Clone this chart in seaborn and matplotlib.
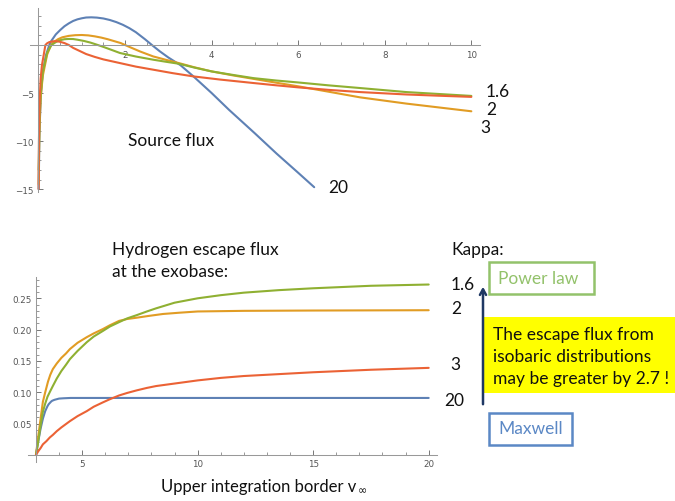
import matplotlib
matplotlib.use("Agg")
import numpy as np
import pandas as pd
import matplotlib.pyplot as plt
import seaborn as sns
from matplotlib.patches import Rectangle, FancyArrowPatch
from matplotlib.ticker import FixedLocator

# ---------------- data: top panel (Source flux, log scale values) ----------------
kappa_order = ["20", "2", "1.6", "3"]
colors = {"20": "#5E81B5", "2": "#E19C24", "1.6": "#8FB032", "3": "#EB6235"}

top_v_k20 = [0.005, 0.02, 0.05, 0.1, 0.17, 0.25, 0.3, 0.4, 0.5, 0.6, 0.7, 0.8, 0.9, 1.0, 1.1,
             1.22, 1.35, 1.5, 1.65, 1.8, 1.95, 2.1, 2.25, 2.46, 2.62, 2.8, 3.0, 3.28, 3.58, 4.0,
             4.4, 5.0, 5.5, 6.0, 6.37]
top_y_k20 = [-15.0, -9.5, -5.5, -2.8, -1.1, 0.0, 0.45, 1.1, 1.55, 1.95, 2.25, 2.5, 2.67, 2.78, 2.86,
             2.88, 2.85, 2.76, 2.6, 2.38, 2.1, 1.75, 1.33, 0.6, 0.0, -0.65, -1.3, -2.1, -3.27, -5.0,
             -6.74, -9.2, -11.3, -13.3, -14.8]

top_v_k2 = [0.005, 0.02, 0.05, 0.1, 0.2, 0.29, 0.35, 0.45, 0.55, 0.7, 0.85, 1.0, 1.15, 1.3, 1.45,
            1.6, 1.75, 1.9, 2.1, 2.35, 2.65, 2.95, 3.24, 3.6, 4.0, 4.5, 5.0, 5.5, 6.0, 6.7,
            7.43, 8.5, 9.25, 10.0]
top_y_k2 = [-14.5, -9.0, -5.5, -3.2, -1.0, 0.0, 0.3, 0.6, 0.8, 0.95, 1.02, 1.04, 1.0, 0.9, 0.77,
            0.6, 0.4, 0.2, -0.2, -0.68, -1.19, -1.55, -1.88, -2.32, -2.75, -3.17, -3.55, -3.93,
            -4.3, -4.86, -5.45, -6.1, -6.5, -6.9]

top_v_k16 = [0.005, 0.02, 0.05, 0.1, 0.2, 0.3, 0.4, 0.5, 0.6, 0.7, 0.8, 0.9, 1.05, 1.2, 1.35,
             1.5, 1.7, 1.88, 2.25, 2.65, 2.95, 3.24, 3.6, 4.0, 4.5, 4.97, 5.5, 6.0, 6.7, 7.43,
             8.5, 9.25, 10.0]
top_y_k16 = [-13.0, -8.5, -5.0, -2.8, -0.8, 0.0, 0.3, 0.5, 0.6, 0.63, 0.62, 0.55, 0.42, 0.25, 0.03,
             -0.2, -0.53, -0.83, -1.2, -1.53, -1.75, -1.95, -2.35, -2.75, -3.12, -3.45, -3.7,
             -3.9, -4.2, -4.48, -4.9, -5.1, -5.3]

top_v_k3 = [0.003, 0.01, 0.03, 0.05, 0.08, 0.16, 0.2, 0.25, 0.33, 0.42, 0.5, 0.6, 0.7, 0.8, 0.95,
            1.1, 1.3, 1.5, 1.7, 1.88, 2.25, 2.65, 3.1, 3.58, 4.2, 4.97, 5.5, 6.0, 6.7, 7.43,
            8.5, 9.25, 10.0]
top_y_k3 = [-15.0, -10.0, -5.5, -3.5, -2.1, 0.0, 0.18, 0.3, 0.38, 0.4, 0.33, 0.2, 0.0, -0.3, -0.62,
            -0.94, -1.24, -1.5, -1.7, -1.88, -2.25, -2.57, -2.93, -3.27, -3.6, -3.96, -4.2,
            -4.41, -4.67, -4.9, -5.15, -5.28, -5.4]

# ---------------- data: bottom panel (escape flux) ----------------
bot_v_k20 = [3.0, 3.05, 3.1, 3.15, 3.2, 3.25, 3.3, 3.35, 3.4, 3.45, 3.5, 3.55, 3.65, 3.7, 3.8,
             3.9, 4.0, 4.2, 4.5, 6.0, 10.0, 15.0, 20.0]
bot_y_k20 = [0.0, 0.011, 0.022, 0.032, 0.042, 0.05, 0.058, 0.064, 0.07, 0.074, 0.078, 0.081, 0.085,
             0.0865, 0.088, 0.089, 0.09, 0.0905, 0.091, 0.091, 0.091, 0.091, 0.091]

bot_v_k2 = [3.0, 3.05, 3.1, 3.2, 3.3, 3.4, 3.52, 3.62, 3.73, 3.9, 4.1, 4.3, 4.47, 4.8, 5.2, 5.5,
            5.9, 6.2, 6.6, 6.95, 7.35, 7.9, 8.5, 9.2, 10.0, 12.0, 15.0, 20.0]
bot_y_k2 = [0.0, 0.015, 0.03, 0.058, 0.085, 0.1, 0.117, 0.128, 0.137, 0.146, 0.155, 0.162, 0.169,
            0.179, 0.188, 0.194, 0.201, 0.207, 0.214, 0.217, 0.219, 0.222, 0.225, 0.227, 0.229,
            0.23, 0.2305, 0.231]

bot_v_k16 = [3.0, 3.05, 3.1, 3.2, 3.3, 3.4, 3.5, 3.62, 3.73, 3.9, 4.1, 4.3, 4.47, 4.8, 5.2, 5.5,
             5.9, 6.2, 6.6, 6.95, 7.35, 7.8, 8.2, 9.0, 10.0, 11.0, 12.0, 13.5, 15.0, 17.5, 20.0]
bot_y_k16 = [0.0, 0.011, 0.022, 0.047, 0.069, 0.082, 0.093, 0.102, 0.11, 0.122, 0.134, 0.144, 0.153,
             0.166, 0.18, 0.189, 0.198, 0.205, 0.212, 0.218, 0.223, 0.229, 0.234, 0.243, 0.25,
             0.255, 0.259, 0.263, 0.266, 0.27, 0.272]

bot_v_k3 = [3.0, 3.1, 3.2, 3.3, 3.45, 3.6, 3.73, 3.9, 4.1, 4.47, 4.8, 5.2, 5.5, 5.9, 6.2, 6.6,
            6.95, 7.35, 7.8, 8.2, 9.0, 10.0, 11.0, 12.0, 13.5, 15.0, 17.5, 20.0]
bot_y_k3 = [0.0, 0.006, 0.011, 0.017, 0.022, 0.028, 0.032, 0.038, 0.044, 0.054, 0.062, 0.07, 0.077,
            0.084, 0.089, 0.095, 0.099, 0.103, 0.107, 0.11, 0.114, 0.119, 0.123, 0.126, 0.129,
            0.132, 0.136, 0.139]

# ---------------- tick labels ----------------
top_xticks = [2, 4, 6, 8, 10]
top_yticks = [-5, -10, -15]
top_ytick_labels = ["\u22125", "\u221210", "\u221215"]
bot_xticks = [5, 10, 15, 20]
bot_yticks = [0.05, 0.10, 0.15, 0.20, 0.25]
bot_ytick_labels = ["0.05", "0.10", "0.15", "0.20", "0.25"]


def long_df(pairs):
    return pd.concat([pd.DataFrame({"v": v, "val": y, "kappa": k}) for k, v, y in pairs])


top_df = long_df([("20", top_v_k20, top_y_k20), ("2", top_v_k2, top_y_k2),
                  ("1.6", top_v_k16, top_y_k16), ("3", top_v_k3, top_y_k3)])
bot_df = long_df([("20", bot_v_k20, bot_y_k20), ("2", bot_v_k2, bot_y_k2),
                  ("1.6", bot_v_k16, bot_y_k16), ("3", bot_v_k3, bot_y_k3)])

sns.set_theme(style="white")
plt.rcParams["font.family"] = ["Lato", "DejaVu Sans"]

W, H = 675, 502
fig = plt.figure(figsize=(6.75, 5.02), dpi=100)


def fx(x):
    return x / W


def fy(y):
    return 1 - y / H


def axes_px(left, top, right, bottom):
    return fig.add_axes([fx(left), fy(bottom), (right - left) / W, (bottom - top) / H])


ax1 = axes_px(30, 9, 480, 193)
ax2 = axes_px(28, 278, 437, 463)

for ax, df in ((ax1, top_df), (ax2, bot_df)):
    sns.lineplot(data=df, x="v", y="val", hue="kappa", hue_order=kappa_order,
                 palette=colors, estimator=None, sort=False, legend=False,
                 linewidth=1.5, ax=ax)
    for ln in ax.get_lines():
        ln.set_solid_joinstyle("round")
        ln.set_solid_capstyle("round")
    ax.set_facecolor("none")
    ax.set_xlabel("")
    ax.set_ylabel("")
    for s in ("top", "right"):
        ax.spines[s].set_visible(False)
    for s in ("left", "bottom"):
        ax.spines[s].set_color("#999999")
        ax.spines[s].set_linewidth(0.75)

# top panel axes
ax1.set_xlim(-0.196, 10.2)
ax1.set_ylim(-15.3, 3.85)
ax1.spines["left"].set_position(("data", 0))
ax1.spines["bottom"].set_position(("data", 0))
ax1.set_xticks(top_xticks)
ax1.set_xticklabels([str(t) for t in top_xticks])
ax1.xaxis.set_minor_locator(FixedLocator(np.arange(0.5, 10.01, 0.5)))
ax1.set_yticks(top_yticks)
ax1.set_yticklabels(top_ytick_labels)
ax1.yaxis.set_minor_locator(FixedLocator(np.arange(-15, 4, 1)))

# bottom panel axes
ax2.set_xlim(2.655, 20.36)
ax2.set_ylim(-0.0112, 0.284)
ax2.spines["left"].set_position(("data", 3))
ax2.spines["bottom"].set_position(("data", 0))
ax2.set_xticks(bot_xticks)
ax2.set_xticklabels([str(t) for t in bot_xticks])
ax2.xaxis.set_minor_locator(FixedLocator(np.arange(3, 20.01, 1)))
ax2.set_yticks(bot_yticks)
ax2.set_yticklabels(bot_ytick_labels)
ax2.yaxis.set_minor_locator(FixedLocator(np.arange(0.0, 0.281, 0.01)))

for ax, pad in ((ax1, 3.5), (ax2, 3.0)):
    ax.tick_params(which="both", bottom=True, left=True, top=False, right=False)
    ax.tick_params(which="major", direction="in", length=3.5, width=0.7, color="#777777",
                   labelsize=6.3, labelcolor="#555555", pad=pad)
    ax.tick_params(which="minor", direction="in", length=2.0, width=0.6, color="#888888")
    for lab in ax.get_xticklabels() + ax.get_yticklabels():
        lab.set_family("DejaVu Sans")

FS = 12.5
TXT = "#111111"


def put(x, y, s, color=TXT, size=FS, ha="left"):
    return fig.text(fx(x), fy(y), s, color=color, fontsize=size, ha=ha, va="center",
                    family=["Lato", "DejaVu Sans"])


put(128, 141, "Source flux")
put(328, 188, "20")
put(486, 92, "1.6")
put(486, 110, "2")
put(480, 128, "3")

put(112, 250, "Hydrogen escape flux")
put(112, 272, "at the exobase:")

put(451, 250, "Kappa:")
put(451, 285, "1.6")
put(451, 309, "2")
put(450, 365, "3")
put(444, 401, "20")

# Power law box
green_box = "#93C26B"
fig.patches.append(Rectangle((fx(489), fy(295)), (594 - 489) / W, (295 - 263) / H,
                             transform=fig.transFigure, fill=False, edgecolor=green_box, lw=1.8))
put(498, 279, "Power law", color=green_box)

# Maxwell box
blue_box = "#5B88C5"
fig.patches.append(Rectangle((fx(489), fy(446)), (572 - 489) / W, (446 - 414) / H,
                             transform=fig.transFigure, fill=False, edgecolor=blue_box, lw=1.8))
put(498, 429, "Maxwell", color=blue_box)

# yellow note
fig.patches.append(Rectangle((fx(484), fy(394)), (675 - 484) / W, (394 - 318) / H,
                             transform=fig.transFigure, facecolor="#FFFF00", edgecolor="none"))
put(493, 335, "The escape flux from")
put(493, 357, "isobaric distributions")
put(493, 379, "may be greater by 2.7 !")

# arrow
arr = FancyArrowPatch((fx(483), fy(408)), (fx(483), fy(285)), transform=fig.transFigure,
                      arrowstyle="->,head_length=4,head_width=2.2", color="#1F3864", lw=1.8)
fig.patches.append(arr)

# x-axis title with subscript infinity
t = put(161, 487, "Upper integration border v", size=12.0)
fig.canvas.draw()
bb = t.get_window_extent(renderer=fig.canvas.get_renderer())
fig.text(bb.x1 / W + 1 / W, fy(491), "\u221e", fontsize=8.0, color=TXT, ha="left", va="center",
         family=["DejaVu Sans"])

fig.savefig("out.png", dpi=100)
